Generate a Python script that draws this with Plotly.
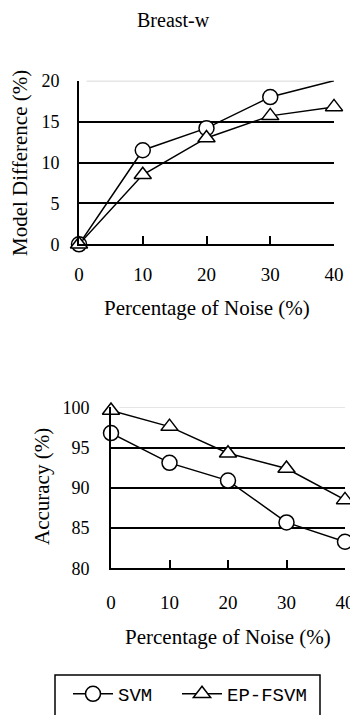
import plotly.graph_objects as go

noise = [0, 10, 20, 30, 40]
svm_diff = [0, 11.5, 14.2, 18.0, 20.0]
ep_diff = [0, 8.5, 13.0, 15.7, 16.8]
svm_acc = [96.8, 93.1, 90.9, 85.7, 83.3]
ep_acc = [99.6, 97.6, 94.3, 92.4, 88.5]
x_ticks = [0, 10, 20, 30, 40]
diff_ticks = [0, 5, 10, 15, 20]
acc_ticks = [80, 85, 90, 95, 100]

# page body adds an 8px margin; lay out in screen pixels and shift
OFF = 8
W, H = 358 - OFF, 715 - OFF
SERIF = "Liberation Serif"

def px(v):
    return (v - OFF) / W

def py(v):
    return 1 - (v - OFF) / H

fig = go.Figure()

marker_circle = dict(symbol="circle", size=15, color="white", opacity=1,
                     line=dict(color="black", width=1.5))
marker_tri = dict(symbol="triangle-up", size=15, color="white", opacity=1,
                  line=dict(color="black", width=1.5))

fig.add_trace(go.Scatter(x=noise, y=svm_diff, mode="lines+markers", name="SVM",
                         line=dict(color="black", width=1.5),
                         marker=dict(marker_circle, opacity=[1, 1, 1, 1, 0]),
                         xaxis="x", yaxis="y", cliponaxis=False, showlegend=False))
fig.add_trace(go.Scatter(x=noise, y=ep_diff, mode="lines+markers", name="EP-FSVM",
                         line=dict(color="black", width=1.5), marker=marker_tri,
                         xaxis="x", yaxis="y", cliponaxis=False, showlegend=False))
fig.add_trace(go.Scatter(x=noise, y=svm_acc, mode="lines+markers", name="SVM",
                         line=dict(color="black", width=1.5), marker=marker_circle,
                         xaxis="x2", yaxis="y2", cliponaxis=False, legend="legend"))
fig.add_trace(go.Scatter(x=noise, y=ep_acc, mode="lines+markers", name="EP-FSVM",
                         line=dict(color="black", width=1.5), marker=marker_tri,
                         xaxis="x2", yaxis="y2", cliponaxis=False, legend="legend2"))

xtickfont = dict(family=SERIF, size=19, color="black")
ytickfont = dict(family=SERIF, size=18, color="black")
TF = dict(family=SERIF, size=21, color="black")

common_x = dict(range=[0, 40], tickvals=x_ticks, ticks="inside", ticklen=8, tickwidth=1.5,
                tickcolor="black", showline=True, linecolor="black", linewidth=2,
                showgrid=False, zeroline=False, tickfont=xtickfont)
common_y = dict(ticks="inside", ticklen=8, tickwidth=1.5, tickcolor="black",
                showline=True, linecolor="black", linewidth=2, showgrid=False,
                zeroline=False, tickfont=ytickfont)

def ann(text, x, y, angle=0, size=21):
    return dict(text=text, x=px(x), y=py(y), xref="paper", yref="paper",
                xanchor="center", yanchor="middle", showarrow=False,
                font=dict(TF, size=size), textangle=angle)

legend_common = dict(orientation="h", xanchor="left", y=py(694), yanchor="middle",
                     font=dict(family="Liberation Mono", size=19, color="black"),
                     bgcolor="rgba(0,0,0,0)", borderwidth=0, itemwidth=40)

fig.update_layout(
    width=W, height=H,
    margin=dict(l=0, r=0, t=0, b=0, autoexpand=False),
    paper_bgcolor="white", plot_bgcolor="white",
    xaxis=dict(common_x, domain=[px(79), px(334)], anchor="y", ticklabelstandoff=12),
    yaxis=dict(common_y, domain=[py(244.3), py(80.7)], anchor="x",
               range=[diff_ticks[0], diff_ticks[-1]], tickvals=diff_ticks, ticklabelstandoff=14,
               minor=dict(tickvals=diff_ticks[1:-1], showgrid=True, gridcolor="black", gridwidth=1.6, ticks="")),
    xaxis2=dict(common_x, domain=[px(111), px(345)], anchor="y2", ticklabelstandoff=16),
    yaxis2=dict(common_y, domain=[py(568.3), py(407.3)], anchor="x2",
                range=[acc_ticks[0], acc_ticks[-1]], tickvals=acc_ticks, ticklabelstandoff=16,
                minor=dict(tickvals=acc_ticks[1:-1], showgrid=True, gridcolor="black", gridwidth=1.6, ticks="")),
    legend=dict(legend_common, x=px(68)),
    legend2=dict(legend_common, x=px(177)),
    showlegend=True,
    annotations=[
        ann("Breast-w", 173, 20, size=20),
        ann("Percentage of Noise (%)", 207, 308),
        ann("Percentage of Noise (%)", 228, 637),
        ann("Model Difference (%)", 20, 163, -90),
        ann("Accuracy (%)", 42, 487, -90),
    ],
    shapes=[
        dict(type="line", xref="x domain", yref="y", x0=0.03, x1=1, y0=diff_ticks[-1], y1=diff_ticks[-1],
             line=dict(color="#cccccc", width=1.5), layer="below"),
        dict(type="line", xref="x2 domain", yref="y2", x0=0.035, x1=1, y0=acc_ticks[-1], y1=acc_ticks[-1],
             line=dict(color="#dddddd", width=1.5), layer="below"),
        dict(type="rect", xref="paper", yref="paper", x0=px(55), x1=px(320), y0=-0.05, y1=py(675),
             line=dict(color="black", width=1.5), fillcolor="rgba(0,0,0,0)"),
    ],
)

fig.write_html("out.html")
